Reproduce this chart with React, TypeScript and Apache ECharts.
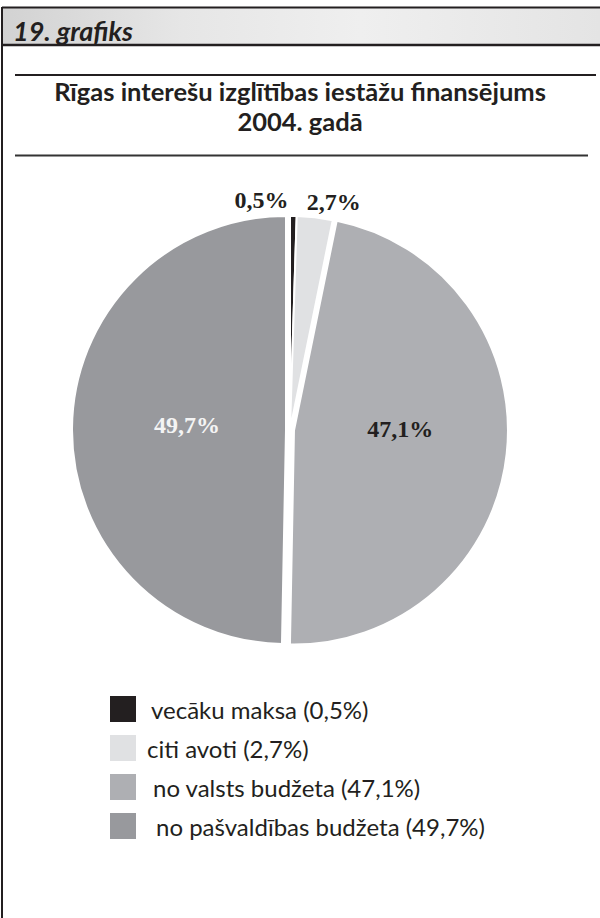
import React, { useEffect, useRef } from "react";
import * as echarts from "echarts";

const headerText = "19. grafiks";
const titleLines = ["Rīgas interešu izglītības iestāžu finansējums", "2004. gadā"];
const categories = [
  "vecāku maksa (0,5%)",
  "citi avoti (2,7%)",
  "no valsts budžeta (47,1%)",
  "no pašvaldības budžeta (49,7%)",
];
const values = [0.5, 2.7, 47.1, 49.7];
const valueLabels = ["0,5%", "2,7%", "47,1%", "49,7%"];
const colors = ["#231f20", "#e0e1e3", "#aeafb3", "#98999d"];
const labelColors = ["#231f20", "#231f20", "#231f20", "#f4f4f4"];
const labelInside = [false, false, true, true];
const selectedSlices = [false, false, true, true];
const legendTextShift = [9, 5, 11, 14];
const labelNudges = [
  { align: "right", dx: -10, dy: 0 },
  { align: "left", dx: -15, dy: 0 },
  { dx: -3, dy: -14 },
  { dx: 11, dy: -4 },
];

export default function App() {
  const ref = useRef<HTMLDivElement>(null);
  useEffect(() => {
    if (!ref.current) return;
    const chart = echarts.init(ref.current, undefined, { renderer: "svg" });
    const ink = "#231f20";
    const titleStyle = {
      fontFamily: "Lato",
      fontWeight: "bold",
      fontSize: 25.5,
      lineHeight: 27,
      color: ink,
    };
    chart.setOption({
      animation: false,
      backgroundColor: "#ffffff",
      title: [
        {
          text: headerText,
          left: 8,
          top: 11,
          textStyle: {
            fontFamily: "Lato",
            fontStyle: "italic",
            fontWeight: "bold",
            fontSize: 27,
            lineHeight: 28,
            color: ink,
          },
        },
        { text: titleLines[0], left: "center", top: 77, padding: 0, textStyle: titleStyle },
        { text: titleLines[1], left: "center", top: 107, padding: 0, textStyle: titleStyle },
      ],
      graphic: [
        {
          type: "rect",
          z: -1,
          shape: { x: 2, y: 7, width: 598, height: 38 },
          style: {
            fill: new echarts.graphic.LinearGradient(0, 0, 1, 0, [
              { offset: 0, color: "#d2d2d2" },
              { offset: 0.3, color: "#e6e6e6" },
              { offset: 0.6, color: "#efefef" },
              { offset: 1, color: "#e4e4e4" },
            ]),
          },
        },
        { type: "line", shape: { x1: 2, y1: 7.5, x2: 600, y2: 7.5 }, style: { stroke: ink, lineWidth: 2 } },
        { type: "line", shape: { x1: 2, y1: 45, x2: 600, y2: 45 }, style: { stroke: ink, lineWidth: 2.5 } },
        { type: "line", shape: { x1: 2, y1: 7, x2: 2, y2: 918 }, style: { stroke: ink, lineWidth: 2 } },
        { type: "line", shape: { x1: 15, y1: 75, x2: 596, y2: 75 }, style: { stroke: ink, lineWidth: 1.8 } },
        { type: "line", shape: { x1: 15, y1: 155.5, x2: 588, y2: 155.5 }, style: { stroke: "#333", lineWidth: 1.8 } },
      ],
      legend: {
        orient: "vertical",
        left: 103,
        top: 689,
        itemWidth: 28,
        itemHeight: 28,
        itemGap: 9,
        icon: "rect",
        selectedMode: false,
        data: categories.map((c, i) => ({
          name: c,
          textStyle: {
            fontFamily: "Lato",
            fontSize: 24,
            lineHeight: 28,
            color: ink,
            padding: [0, 0, 0, legendTextShift[i]],
          },
        })),
      },
      series: [
        {
          type: "pie",
          center: [290, 430],
          radius: 214,
          startAngle: 90,
          clockwise: true,
          avoidLabelOverlap: false,
          selectedMode: "multiple",
          selectedOffset: 4,
          itemStyle: { borderColor: "#ffffff", borderWidth: 2 },
          emphasis: { disabled: true },
          labelLine: { show: false, length: 16, length2: 0 },
          labelLayout: (p: any) => labelNudges[p.dataIndex],
          data: categories.map((c, i) => ({
            name: c,
            value: values[i],
            selected: selectedSlices[i],
            itemStyle: { color: colors[i] },
            select: { itemStyle: { color: colors[i], borderColor: "#ffffff", borderWidth: 2 } },
            label: {
              show: true,
              position: labelInside[i] ? "inside" : "outside",
              formatter: valueLabels[i],
              fontFamily: "Liberation Serif",
              fontWeight: "bold",
              fontSize: 24,
              color: labelColors[i],
            },
          })),
        },
      ],
    });
    return () => chart.dispose();
  }, []);
  return (
    <div
      ref={ref}
      style={{ position: "fixed", left: 0, top: 0, width: 600, height: 918 }}
    />
  );
}
